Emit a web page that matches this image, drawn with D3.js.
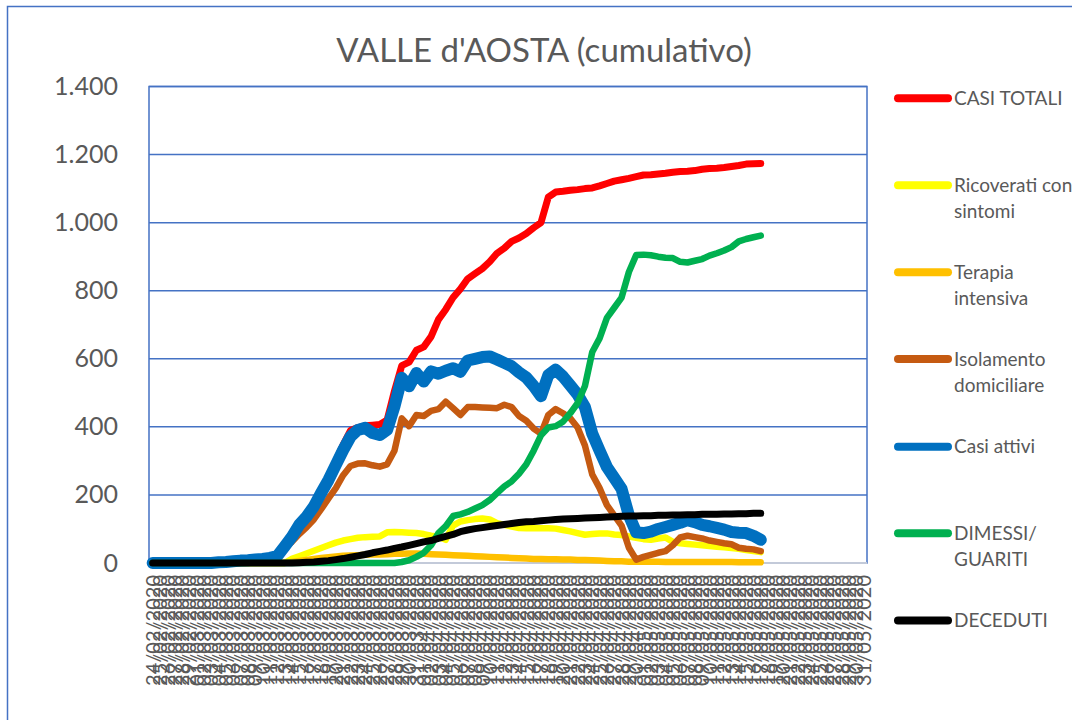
<!DOCTYPE html>
<html><head><meta charset="utf-8">
<script src="https://cdn.jsdelivr.net/npm/d3@7"></script>
<style>
body{margin:0;background:#fff;}
svg{display:block;}
text{font-family:Lato,'Open Sans',sans-serif;fill:#595959;}
</style>
</head><body>
<svg id="chart" width="1072" height="720"></svg>
<script>
const dates = [
"24/02/2020","25/02/2020","26/02/2020","27/02/2020","28/02/2020","29/02/2020",
"01/03/2020","02/03/2020","03/03/2020","04/03/2020","05/03/2020","06/03/2020","07/03/2020","08/03/2020","09/03/2020","10/03/2020",
"11/03/2020","12/03/2020","13/03/2020","14/03/2020","15/03/2020","16/03/2020","17/03/2020","18/03/2020","19/03/2020","20/03/2020",
"21/03/2020","22/03/2020","23/03/2020","24/03/2020","25/03/2020","26/03/2020","27/03/2020","28/03/2020","29/03/2020","30/03/2020","31/03/2020",
"01/04/2020","02/04/2020","03/04/2020","04/04/2020","05/04/2020","06/04/2020","07/04/2020","08/04/2020","09/04/2020","10/04/2020",
"11/04/2020","12/04/2020","13/04/2020","14/04/2020","15/04/2020","16/04/2020","17/04/2020","18/04/2020","19/04/2020","20/04/2020",
"21/04/2020","22/04/2020","23/04/2020","24/04/2020","25/04/2020","26/04/2020","27/04/2020","28/04/2020","29/04/2020","30/04/2020",
"01/05/2020","02/05/2020","03/05/2020","04/05/2020","05/05/2020","06/05/2020","07/05/2020","08/05/2020","09/05/2020","10/05/2020",
"11/05/2020","12/05/2020","13/05/2020","14/05/2020","15/05/2020","16/05/2020","17/05/2020","18/05/2020","19/05/2020","20/05/2020",
"21/05/2020","22/05/2020","23/05/2020","24/05/2020","25/05/2020","26/05/2020","27/05/2020","28/05/2020","29/05/2020","30/05/2020","31/05/2020"
];
const yTicks = [0,200,400,600,800,1000,1200,1400];

const casiTotali = [
0,0,0,0,0,0,0,0,0,
2,3,5,7,8,10,12,15,20,
48,78,114,139,171,213,253,300,347,389,
398,403,405,407,420,505,580,590,625,635,
665,715,745,780,805,835,850,865,885,910,
925,945,955,968,985,1000,1075,1090,1092,1095,
1097,1100,1102,1108,1115,1122,1126,1130,1135,1140,
1141,1143,1145,1148,1150,1151,1153,1157,1159,1160,
1162,1165,1168,1172,1173,1174];
const ricoverati = [
0,0,0,0,0,0,0,0,0,0,0,0,0,0,0,0,0,0,0,
12,20,28,36,44,52,60,66,70,74,
76,77,78,90,91,90,89,88,85,80,
77,68,110,122,126,129,131,128,117,112,
107,103,102,102,102,102,101,97,93,88,
83,85,87,87,84,82,78,74,70,68,
72,75,62,58,56,54,52,50,48,46,
44,42,38,35,32];
const terapia = [
0,0,0,0,0,0,0,0,0,0,0,0,0,0,0,0,0,0,0,
3,6,9,12,15,17,19,21,22,23,
24,25,25,26,27,27,28,28,27,26,
25,24,23,22,21,20,19,18,17,16,
15,14,13,12,12,11,11,10,10,9,
9,8,7,6,5,5,4,4,4,4,
4,3,3,3,3,3,3,3,3,3,
3,2,2,2,2];
const isolamento = [
0,0,0,0,0,0,0,0,0,
2,3,5,7,8,10,12,15,20,
45,62,85,105,128,158,190,220,258,285,
292,293,287,283,290,330,425,402,435,432,
447,452,474,455,435,458,458,457,456,455,
465,458,432,418,395,380,435,452,440,425,
398,345,260,220,170,140,110,45,10,18,
24,30,35,52,75,80,76,72,66,62,
58,55,45,42,40,35];
const casiAttivi = [
0,0,0,0,0,0,0,0,0,
2,3,5,7,8,10,12,15,20,
48,77,112,136,166,206,244,288,332,371,
391,397,382,376,391,460,544,519,558,533,
563,556,565,572,562,595,600,605,607,598,
588,578,560,545,520,490,552,568,548,522,
495,458,380,330,282,250,218,140,90,88,
92,100,106,112,118,126,120,112,108,103,
98,91,89,88,80,68];
const dimessi = [
0,0,0,0,0,0,0,0,0,0,0,0,0,0,0,0,0,0,0,0,0,0,0,0,0,0,0,0,0,0,0,0,0,
0,3,8,18,30,52,88,108,138,143,
150,160,170,185,205,225,240,262,290,330,
375,398,402,415,440,470,520,620,660,720,
750,780,855,905,906,904,900,897,896,885,
883,888,893,903,910,918,928,945,952,957,
962];
const deceduti = [
0,0,0,0,0,0,0,0,0,0,0,0,0,0,0,0,0,0,0,
0,1,2,3,5,7,10,13,17,21,
25,30,34,38,43,47,52,57,62,66,
72,78,84,92,97,101,104,107,110,113,
116,119,121,122,124,126,128,129,130,131,
132,133,134,135,136,137,138,138,139,139,
140,140,141,141,142,142,143,143,143,144,
144,145,145,146,146];

const seriesNames = [["CASI TOTALI"],["Ricoverati con","sintomi"],["Terapia","intensiva"],["Isolamento","domiciliare"],["Casi attivi"],["DIMESSI/","GUARITI"],["DECEDUTI"]];
const seriesValues = [casiTotali, ricoverati, terapia, isolamento, casiAttivi, dimessi, deceduti];
const seriesColors = ["#FF0000","#FFFF00","#FFC000","#C55A11","#0070C0","#00B050","#000000"];
const seriesWidths = [7,6.5,6.5,6.5,12,6.5,7];

const svg = d3.select("#chart");
const L = 149, R = 867, T = 86.5, B = 563;

// outer chart border
svg.append("rect").attr("x",7.5).attr("y",6.5).attr("width",1100).attr("height",760)
  .attr("fill","none").attr("stroke","#4472C4").attr("stroke-width",1.5);

// title
svg.append("text").attr("x",544).attr("y",62).attr("text-anchor","middle")
  .style("font-size","33px").text("VALLE d'AOSTA (cumulativo)");

const x = d3.scaleBand().domain(dates).range([L, R]).padding(0);
const cx = d => x(d) + x.bandwidth()/2;
const y = d3.scaleLinear().domain([0,1400]).range([B, T]);

const itLocale = d3.formatLocale({decimal:",", thousands:".", grouping:[3], currency:["€",""]});
const fmt = itLocale.format(",");

// gridlines
svg.append("g").selectAll("line").data(yTicks.filter(v=>v>0)).join("line")
  .attr("x1",L).attr("x2",R).attr("y1",d=>y(d)).attr("y2",d=>y(d))
  .attr("stroke","#4472C4").attr("stroke-width",1.5);

// plot border
svg.append("rect").attr("x",L).attr("y",T).attr("width",R-L).attr("height",B-T)
  .attr("fill","none").attr("stroke","#4472C4").attr("stroke-width",1.5);

// y axis labels
const yAxis = d3.axisLeft(y).tickValues(yTicks).tickFormat(fmt).tickSize(0).tickPadding(31);
const gy = svg.append("g").attr("transform",`translate(${L},0)`).call(yAxis);
gy.select(".domain").remove();
gy.selectAll("text").style("font-size","25px").style("font-family","Lato,'Open Sans',sans-serif").attr("fill","#595959");

// x axis
const xAxis = d3.axisBottom(x).tickSize(0);
const gx = svg.append("g").attr("transform",`translate(0,${B})`).call(xAxis);
gx.select(".domain").remove();
gx.selectAll("text")
  .attr("transform","rotate(-90)").attr("text-anchor","end")
  .attr("x",-12).attr("y",0).attr("dy","0.36em")
  .style("font-size","20px").style("font-family","Lato,'Open Sans',sans-serif").attr("fill","#595959");

// bottom axis line
svg.append("line").attr("x1",L).attr("x2",R).attr("y1",B).attr("y2",B)
  .attr("stroke","#C3CAD9").attr("stroke-width",2);

// lines
const line = d3.line().x((d,i)=>cx(dates[i])).y(d=>y(d));
const gl = svg.append("g");
seriesValues.forEach((vals,k)=>{
  gl.append("path").datum(vals).attr("d",line)
    .attr("fill","none").attr("stroke",seriesColors[k]).attr("stroke-width",seriesWidths[k])
    .attr("stroke-linejoin","round").attr("stroke-linecap","round");
});

// legend
const legY = [98.3,185.3,272.3,359,446.7,533.3,620.5];
const lg = svg.append("g");
seriesNames.forEach((names,k)=>{
  lg.append("line").attr("x1",898).attr("x2",948).attr("y1",legY[k]).attr("y2",legY[k])
    .attr("stroke",seriesColors[k]).attr("stroke-width",8).attr("stroke-linecap","round");
  names.forEach((n,j)=>{
    lg.append("text").attr("x",954).attr("y",legY[k]+j*26.5).attr("dy","0.35em")
      .style("font-size","19px").text(n);
  });
});
</script>
</body></html>
